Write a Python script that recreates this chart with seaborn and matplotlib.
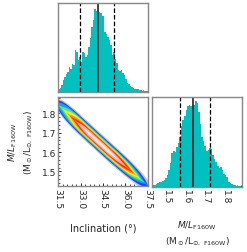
import numpy as np
import pandas as pd
import matplotlib
matplotlib.use("Agg")
import matplotlib.pyplot as plt
from matplotlib.ticker import AutoMinorLocator
import seaborn as sns

# marginal histogram of inclination (bin width 0.1 deg)
inc_edges = np.round(np.arange(31.5, 37.51, 0.1), 2)
inc_counts = [10, 12, 20, 35, 45, 55, 60, 75, 70, 85,
              80, 125, 120, 95, 105, 90, 120, 115, 105, 110,
              135, 160, 195, 215, 248, 242, 228, 238, 235, 225,
              225, 180, 172, 165, 155, 140, 110, 118, 98, 88,
              65, 62, 65, 58, 50, 40, 28, 25, 18, 15,
              12, 10, 8, 8, 7, 5, 4, 3, 2, 2]
inc_q = [32.95, 34.17, 35.22]

# marginal histogram of M/L (bin width 0.008)
ml_edges = np.round(np.arange(1.42, 1.8765, 0.008), 3)
ml_counts = [3, 5, 7, 9, 12, 14, 16, 18, 22, 26,
             36, 50, 70, 100, 108, 105, 118, 130, 150, 180,
             198, 210, 230, 242, 243, 240, 245, 245, 255, 250,
             222, 188, 150, 137, 122, 108, 110, 117, 112, 95,
             82, 74, 63, 57, 58, 50, 40, 35, 30, 15,
             12, 8, 6, 5, 4, 3, 2]
ml_q = [1.566, 1.635, 1.723]

# joint density: ridge of the band and vertical half-widths of each level
band_inc = [31.5, 31.75, 32.0, 32.25, 32.5, 32.75, 33.0, 33.25, 33.5, 33.75,
            34.0, 34.25, 34.5, 34.75, 35.0, 35.25, 35.5, 35.75, 36.0, 36.25,
            36.5, 36.75, 37.0, 37.25, 37.5]
band_ml = [1.845, 1.827, 1.809, 1.791, 1.773, 1.755, 1.737, 1.719, 1.701, 1.684,
           1.666, 1.648, 1.631, 1.613, 1.596, 1.579, 1.562, 1.545, 1.528, 1.511,
           1.494, 1.477, 1.460, 1.444, 1.428]
level_colors = ["#c4c4c4", "#2a3cff", "#00a8ff", "#50e890", "#fff000",
                "#ff9a00", "#ff2a10", "#f2a8a4", "#fbe4e2"]
level_widths = [
    [0.034, 0.044, 0.050, 0.053, 0.055, 0.056, 0.056, 0.056, 0.056, 0.056, 0.056, 0.056, 0.056,
     0.056, 0.056, 0.055, 0.055, 0.054, 0.053, 0.051, 0.049, 0.046, 0.042, 0.035, 0.026],
    [0.026, 0.036, 0.042, 0.045, 0.047, 0.048, 0.048, 0.048, 0.048, 0.048, 0.048, 0.048, 0.048,
     0.048, 0.048, 0.047, 0.047, 0.046, 0.045, 0.043, 0.040, 0.036, 0.030, 0.019, 0],
    [0.014, 0.027, 0.035, 0.039, 0.041, 0.042, 0.043, 0.043, 0.043, 0.043, 0.043, 0.043, 0.043,
     0.043, 0.042, 0.042, 0.041, 0.040, 0.038, 0.036, 0.032, 0.026, 0.017, 0.005, 0],
    [0, 0.010, 0.022, 0.031, 0.035, 0.037, 0.038, 0.038, 0.038, 0.038, 0.038, 0.038, 0.038,
     0.038, 0.037, 0.037, 0.036, 0.034, 0.032, 0.029, 0.024, 0.016, 0.005, 0, 0],
    [0, 0, 0.008, 0.020, 0.028, 0.032, 0.033, 0.033, 0.033, 0.033, 0.033, 0.033, 0.033,
     0.033, 0.032, 0.032, 0.031, 0.029, 0.026, 0.022, 0.015, 0.005, 0, 0, 0],
    [0, 0, 0, 0.005, 0.017, 0.024, 0.027, 0.028, 0.028, 0.028, 0.028, 0.028, 0.028,
     0.028, 0.027, 0.027, 0.026, 0.024, 0.020, 0.014, 0.005, 0, 0, 0, 0],
    [0, 0, 0, 0, 0.005, 0.014, 0.020, 0.023, 0.023, 0.023, 0.023, 0.023, 0.023,
     0.023, 0.022, 0.022, 0.020, 0.018, 0.013, 0.005, 0, 0, 0, 0, 0],
    [0, 0, 0, 0, 0, 0.003, 0.011, 0.016, 0.018, 0.018, 0.018, 0.018, 0.018,
     0.018, 0.017, 0.015, 0.012, 0.007, 0.002, 0, 0, 0, 0, 0, 0],
    [0, 0, 0, 0, 0, 0, 0, 0.004, 0.008, 0.009, 0.010, 0.010, 0.010,
     0.009, 0.007, 0.004, 0.001, 0, 0, 0, 0, 0, 0, 0, 0],
]

inc_ticks = [31.5, 33.0, 34.5, 36.0, 37.5]
ml_ticks = [1.5, 1.6, 1.7, 1.8]
inc_lim = (31.5, 37.5)
ml_lim = (1.425, 1.885)

sns.set_style("ticks")
plt.rcParams["font.family"] = ["DejaVu Sans"]
plt.rcParams["mathtext.default"] = "regular"

HIST = "#00c0c0"
FS = 6.5

fig = plt.figure(figsize=(2.47, 2.53), dpi=100)
ax_top = fig.add_axes([0.235, 0.632, 0.364, 0.352])
ax_2d = fig.add_axes([0.235, 0.261, 0.364, 0.352])
ax_r = fig.add_axes([0.615, 0.257, 0.366, 0.356])


def style(ax):
    for s in ax.spines.values():
        s.set_color("#888888")
        s.set_linewidth(1.0)
    ax.tick_params(direction="in", length=2.5, width=0.6, color="black",
                   labelsize=FS, pad=1.5)
    ax.tick_params(which="minor", direction="in", length=1.5, width=0.5, color="black")
    ax.xaxis.set_minor_locator(AutoMinorLocator(5))


def hist(ax, edges, counts):
    edges = [float(e) for e in edges]
    df = pd.DataFrame({"x": [(a + b) / 2 for a, b in zip(edges[:-1], edges[1:])],
                       "w": counts})
    sns.histplot(data=df, x="x", weights="w", bins=edges, color=HIST, alpha=1,
                 linewidth=0, ax=ax)


def quantiles(ax, qs):
    for i, q in enumerate(qs):
        if i == 1:
            ax.axvline(q, color="#333333", ls="-", lw=1.3)
        else:
            ax.axvline(q, color="black", ls="--", lw=0.9)


# top histogram
hist(ax_top, inc_edges, inc_counts)
quantiles(ax_top, inc_q)
ax_top.set_xlim(*inc_lim)
ax_top.set_ylim(0, 265)
ax_top.set_xticks(inc_ticks)
ax_top.set_xticklabels([])
ax_top.set_yticks([])
ax_top.set_xlabel("")
ax_top.set_ylabel("")
style(ax_top)

# joint panel
for col, w in zip(level_colors, level_widths):
    lo = np.array(band_ml) - np.array(w)
    hi = np.array(band_ml) + np.array(w)
    ax_2d.fill_between(band_inc, lo, hi, color=col, lw=0)
ax_2d.set_xlim(*inc_lim)
ax_2d.set_ylim(*ml_lim)
ax_2d.set_xticks(inc_ticks)
ax_2d.set_xticklabels(["31.5", "33.0", "34.5", "36.0", "37.5"], rotation=-90)
ax_2d.set_yticks(ml_ticks)
ax_2d.yaxis.set_minor_locator(AutoMinorLocator(5))
ax_2d.set_xlabel("Inclination (°)", fontsize=FS + 0.5, labelpad=10)
ax_2d.set_ylabel("$\\mathit{M/L}_{\\rm F160W}$\n(M$_\\odot$/L$_{\\odot,\\ \\rm F160W}$)",
                 fontsize=FS, labelpad=5, linespacing=1.4)
style(ax_2d)

# right histogram
hist(ax_r, ml_edges, ml_counts)
quantiles(ax_r, ml_q)
ax_r.set_xlim(*ml_lim)
ax_r.set_ylim(0, 268)
ax_r.set_xticks(ml_ticks)
ax_r.set_xticklabels(["1.5", "1.6", "1.7", "1.8"], rotation=-90)
ax_r.set_yticks([])
ax_r.set_ylabel("")
ax_r.set_xlabel("$\\mathit{M/L}_{\\rm F160W}$\n(M$_\\odot$/L$_{\\odot,\\ \\rm F160W}$)",
                fontsize=FS, labelpad=11, linespacing=1.4)
style(ax_r)

fig.savefig("out.png", dpi=100)
plt.close(fig)
